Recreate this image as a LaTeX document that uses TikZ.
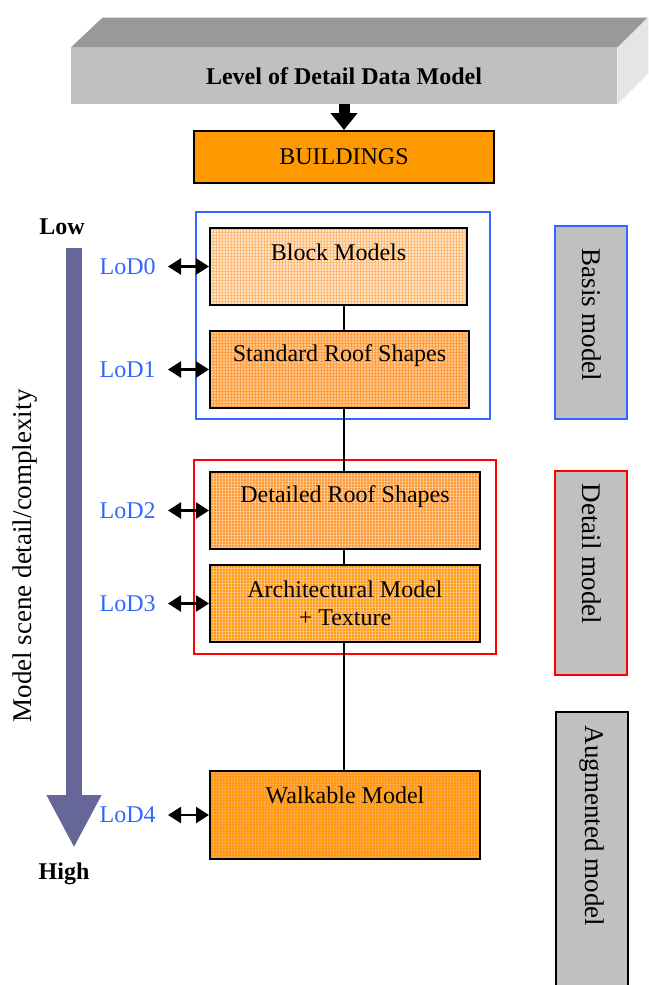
\documentclass[tikz,border=0pt]{standalone}
\usepackage{fontspec}
\setmainfont{Liberation Serif}
\usetikzlibrary{arrows.meta,patterns.meta,positioning}

\definecolor{lodblue}{HTML}{3366FF}
\definecolor{lodred}{HTML}{FF0000}
\definecolor{lodorange}{HTML}{FF9900}
\definecolor{axispurple}{HTML}{666699}
\definecolor{panelgray}{HTML}{C0C0C0}

\tikzset{
  gridfill/.style 2 args={
    preaction={fill=#1},
    preaction={pattern={Lines[distance=1.5pt,angle=0,line width=.35pt]},pattern color=#2},
    preaction={pattern={Lines[distance=1.5pt,angle=90,line width=.35pt]},pattern color=#2}},
  lodbox/.style={draw=black,line width=1pt,minimum height=38.5pt},
  frame/.style={draw=#1,line width=1pt,minimum width=147pt},
  sidebox/.style={draw=#1,fill=panelgray,line width=1pt,minimum width=36pt},
  sidetext/.style={rotate=-90,font=\fontsize{13.5}{16}\selectfont},
  lodlabel/.style={text=lodblue,inner sep=0pt},
  lodarrow/.style={{Triangle[length=6.5pt,width=8pt]}-{Triangle[length=6.5pt,width=8pt]},line width=1.2pt},
}

\begin{document}
\begin{tikzpicture}[x=0.5pt,y=-0.5pt,font=\fontsize{12}{14}\selectfont]
\useasboundingbox (0,0) rectangle (648,985);

% title slab
\node[fill=panelgray,minimum width=273pt,minimum height=28pt,font=\fontsize{12}{14}\selectfont\bfseries] (banner) at (344,76) {Level of Detail Data Model};
\fill[gray!80] (banner.north west) -- ++(32,-30) -- ++(545,0) -- (banner.north east) -- cycle;
\fill[gray!20] (banner.north east) -- ++(31,-30) -- ++(0,56) -- (banner.south east) -- cycle;

\node[draw,line width=1pt,fill=lodorange,minimum width=150pt,minimum height=26pt] (bld) at (344,157) {BUILDINGS};
\draw[line width=5.5pt,-{Triangle[length=8.5pt,width=13pt]}] (banner.south) -- (bld.north);

% grouping frames
\node[frame=lodblue,minimum height=103.5pt] (basisgrp) at (343,315.5) {};
\node[frame=lodred,line width=.8pt,minimum width=151pt,minimum height=97pt] (detailgrp) at (345,557) {};

% level boxes
\node[lodbox,gridfill={orange!22}{orange!55},minimum width=128.5pt] (block) at (338.5,266.5) {};
\node[lodbox,gridfill={orange!45}{orange!75},minimum width=129.5pt] (standard) at (339.5,369.5) {};
\node[lodbox,gridfill={orange!80}{orange!45},minimum width=135pt] (detailed) at (345,510.5) {};
\node[lodbox,gridfill={lodorange!95}{orange!50},minimum width=135pt,align=center] (arch) at (345,603.5) {Architectural Model\\+ Texture};
\node[lodbox,gridfill={lodorange}{orange!70},minimum width=135pt,minimum height=44pt] (walk) at (345,815) {};

\node (blockt) at ([yshift=-12.5pt]block.north) {Block Models};
\node (standardt) at ([yshift=-13pt]standard.north) {Standard Roof Shapes};
\node (detailedt) at ([yshift=-13pt]detailed.north) {Detailed Roof Shapes};
\node (walkt) at ([yshift=-12.5pt]walk.north) {Walkable Model};

\draw[line width=.8pt] (block.south -| bld.center) -- (standard.north -| bld.center);
\draw[line width=.8pt] (standard.south -| bld.center) -- (detailed.north -| bld.center);
\draw[line width=.8pt] (detailed.south -| bld.center) -- (arch.north -| bld.center);
\draw[line width=.8pt] (arch.south -| bld.center) -- (walk.north -| bld.center);

% LoD labels and their arrows
\foreach \b [count=\n from 0] in {block,standard,detailed,arch,walk} {
  \node[lodlabel,left=26.5pt of \b.west] (lod\n) {LoD\n};
  \draw[lodarrow] ([xshift=6pt]lod\n.east) -- (\b.west);
}

% complexity axis
\node[font=\fontsize{12}{14}\selectfont\bfseries] (low) at (62,227) {Low};
\node[font=\fontsize{12}{14}\selectfont\bfseries] (high) at (64,874) {High};
\coordinate (axtop) at (74,248);
\coordinate (axtip) at (74,848);
\draw[axispurple,line width=8pt,-{Triangle[length=26.5pt,width=25.5pt]}] (axtop) -- (axtip);
\node[rotate=90,font=\fontsize{13.5}{16}\selectfont] (axislabel) at (25,556) {Model scene detail/complexity};

% model panels
\node[sidebox=lodblue,minimum height=96.5pt] (basis) at (591,322.5) {};
\node[sidebox=lodred,minimum height=102pt] (detail) at (591,573) {};
\node[sidebox=black,minimum height=144pt] (augm) at (591.5,856) {};
\node[sidetext] (basist) at (592,315) {Basis model};
\node[sidetext] (detailt) at (592,554) {Detail model};
\node[sidetext] (augmt) at (592,826) {Augmented model};
\end{tikzpicture}
\end{document}
